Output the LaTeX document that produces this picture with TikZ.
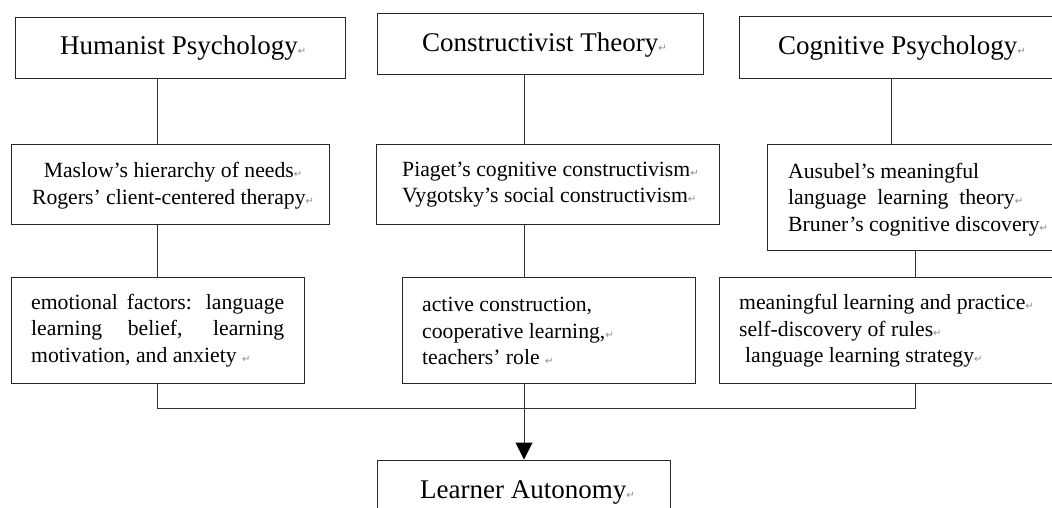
\documentclass[tikz,border=0pt]{standalone}
\usepackage{fontspec}
\setmainfont{Liberation Serif}
\newfontfamily\symfont{DejaVu Sans}
\usetikzlibrary{arrows.meta}
\newcommand{\pmk}{{\symfont\fontsize{10}{10}\selectfont\textcolor{black!45}{↵}}}
\begin{document}
\begin{tikzpicture}[x=1pt,y=-1pt,
  box/.style={draw=black!85, line width=1pt, inner sep=0pt, rectangle},
  conn/.style={draw=black!80, line width=1pt},
  ttl/.style={inner sep=0pt, anchor=base west, font=\fontsize{27}{32}\selectfont},
  bdy/.style={inner sep=0pt, anchor=west, align=left, font=\fontsize{21.7}{26.5}\selectfont},
  bdyc/.style={inner sep=0pt, anchor=center, align=center, font=\fontsize{21.7}{26.5}\selectfont}]
\useasboundingbox (0,0) rectangle (1052,508);
\fill[white] (0,0) rectangle (1052,508);
% boxes
\node[box, minimum width=330pt, minimum height=61pt] (B1) at (180,48.5) {};
\node[box, minimum width=326pt, minimum height=61pt] (B2) at (540,44.5) {};
\node[box, minimum width=331pt, minimum height=62pt] (B3) at (904.5,48) {};
\node[box, minimum width=318pt, minimum height=79pt] (M1) at (170,184.5) {};
\node[box, minimum width=343pt, minimum height=79pt] (M2) at (547.5,184.5) {};
\node[box, minimum width=303pt, minimum height=105pt] (M3) at (918.5,197.5) {};
\node[box, minimum width=293pt, minimum height=106pt] (E1) at (157.5,330) {};
\node[box, minimum width=293pt, minimum height=106pt] (E2) at (548.5,330) {};
\node[box, minimum width=351pt, minimum height=106pt] (E3) at (894.5,330) {};
\node[box, minimum width=293pt, minimum height=80pt] (LA) at (523.5,500) {};
% texts
\node[ttl] (tB1) at (60,55) {Humanist Psychology\pmk};
\node[ttl] (tB2) at (422,52) {Constructivist Theory\pmk};
\node[ttl] (tB3) at (778,55) {Cognitive Psychology\pmk};
\node[bdyc] (tM1) at (173,185.5) {Maslow’s hierarchy of needs\pmk\\Rogers’ client-centered therapy\pmk};
\node[bdy] (tM2) at (402,184.5) {Piaget’s cognitive constructivism\pmk\\Vygotsky’s social constructivism\pmk};
\node[bdy] (tM3) at (788,199.5) {Ausubel’s meaningful\\language\ \ learning\ \ theory\pmk\\Bruner’s cognitive discovery\pmk};
\node[bdy] (tE1) at (31,330.5) {\makebox[253pt][s]{emotional factors: language}\\\makebox[253pt][s]{learning belief, learning}\\motivation, and anxiety \pmk};
\node[bdy] (tE2) at (422,331) {active construction,\\cooperative learning,\pmk\\teachers’ role \pmk};
\node[bdy] (tE3) at (739,331) {meaningful learning and practice\pmk\\self-discovery of rules\pmk\\\hspace*{6pt}language learning strategy\pmk};
\node[ttl] (tLA) at (420,498) {Learner Autonomy\pmk};
% connectors
\coordinate (c1) at (157,408);
\coordinate (c2) at (524,408);
\coordinate (c3) at (915,408);
\coordinate (c4) at (891,408);
\draw[conn] (c1 |- B1.south) -- (c1 |- M1.north);
\draw[conn] (c1 |- M1.south) -- (c1 |- E1.north);
\draw[conn] (c2 |- B2.south) -- (c2 |- M2.north);
\draw[conn] (c2 |- M2.south) -- (c2 |- E2.north);
\draw[conn] (c4 |- B3.south) -- (c4 |- M3.north);
\draw[conn] (c3 |- M3.south) -- (c3 |- E3.north);
\draw[conn] (c1 |- E1.south) -- (c1) -- (c3) -- (c3 |- E3.south);
\draw[conn, -{Triangle[width=17pt,length=17pt,fill=black,color=black]}] (c2 |- E2.south) -- (c2 |- LA.north);
\end{tikzpicture}
\end{document}
